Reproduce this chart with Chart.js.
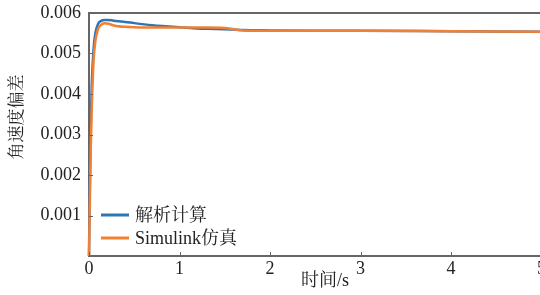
<!DOCTYPE html>
<html><head><meta charset="utf-8">
<script src="https://cdn.jsdelivr.net/npm/chart.js@4.4.1/dist/chart.umd.min.js"></script>
<style>html,body{margin:0;padding:0;background:#fff;overflow:hidden;width:540px;height:295px}#wrap{width:570px;height:295px}</style>
</head><body><div id="wrap"><canvas id="c" width="570" height="295"></canvas></div>
<script>
const times = [0, 0.005, 0.01, 0.02, 0.03, 0.05, 0.07, 0.1, 0.13, 0.17, 0.2, 0.25, 0.3, 0.4, 0.5, 0.7, 1.0, 1.3, 1.5, 1.6, 1.7, 2.0, 2.5, 3, 4, 5];
const analytic = [0, 0.0010, 0.0019, 0.0033, 0.0042, 0.0051, 0.0055, 0.00573, 0.0058, 0.00583, 0.00583, 0.00582, 0.0058, 0.00578, 0.00575, 0.0057, 0.00565, 0.00561, 0.0056, 0.00559, 0.00558, 0.00557, 0.00556, 0.00556, 0.00555, 0.00554];
const simulink = [0, 0.0007, 0.0014, 0.0027, 0.0036, 0.0048, 0.0053, 0.0056, 0.0057, 0.00575, 0.00574, 0.00571, 0.00568, 0.00566, 0.00565, 0.00564, 0.00564, 0.00564, 0.00563, 0.0056, 0.00557, 0.00556, 0.00556, 0.00556, 0.00555, 0.00554];
const seriesNames = ['解析计算', 'Simulink仿真'];
const xTicks = [0, 1, 2, 3, 4, 5];
const yTicks = [0, 0.001, 0.002, 0.003, 0.004, 0.005, 0.006];
const xTitle = '时间/s';
const yTitle = '角速度偏差';

const FONT = "'Liberation Serif', 'Noto Serif CJK SC', 'Noto Sans CJK SC', serif";
const AXIS = '#666';
const TEXT = '#222';
const colors = ['#2E75B6', '#F28032'];

const deco = {
  id: 'deco',
  afterDraw(chart) {
    const {ctx, chartArea: a, scales: {x, y}} = chart;
    ctx.save();
    // top border
    ctx.strokeStyle = AXIS; ctx.lineWidth = 2;
    ctx.beginPath(); ctx.moveTo(a.left, a.top); ctx.lineTo(a.right + 2, a.top); ctx.stroke();
    // inward ticks
    ctx.lineWidth = 1;
    xTicks.forEach(v => { const px = Math.round(x.getPixelForValue(v)) + 0.5; ctx.beginPath(); ctx.moveTo(px, a.bottom); ctx.lineTo(px, a.bottom - 4); ctx.stroke(); });
    yTicks.forEach(v => { const py = Math.round(y.getPixelForValue(v)) + 0.5; ctx.beginPath(); ctx.moveTo(a.left, py); ctx.lineTo(a.left + 4, py); ctx.stroke(); });
    // legend
    ctx.font = '18px ' + FONT; ctx.fillStyle = TEXT; ctx.textBaseline = 'middle'; ctx.textAlign = 'left';
    chart.data.datasets.forEach((ds, i) => {
      const ly = 215 + i * 23;
      ctx.strokeStyle = ds.borderColor; ctx.lineWidth = 3;
      ctx.beginPath(); ctx.moveTo(a.left + 12, ly); ctx.lineTo(a.left + 40, ly); ctx.stroke();
      ctx.fillText(ds.label, a.left + 46, ly + 1);
    });
    // axis titles
    ctx.font = '18px ' + FONT; ctx.textAlign = 'center';
    ctx.fillText(xTitle, 325, 281);
    ctx.translate(18, 117); ctx.rotate(-Math.PI / 2);
    ctx.font = '17px ' + FONT;
    ctx.fillText(yTitle, 0, 0);
    ctx.restore();
  }
};

new Chart(document.getElementById('c'), {
  type: 'line',
  data: {
    datasets: [
      { label: seriesNames[0], data: times.map((t, i) => ({x: t, y: analytic[i]})), borderColor: colors[0], borderWidth: 2.5, pointRadius: 0, cubicInterpolationMode: 'monotone', order: 2 },
      { label: seriesNames[1], data: times.map((t, i) => ({x: t, y: simulink[i]})), borderColor: colors[1], borderWidth: 2.5, pointRadius: 0, cubicInterpolationMode: 'monotone', order: 1 }
    ]
  },
  options: {
    responsive: false, animation: false, clip: false,
    layout: { padding: { top: 13, right: 28.5, left: 0, bottom: 0 } },
    plugins: { legend: { display: false }, tooltip: { enabled: false } },
    scales: {
      x: {
        type: 'linear', min: 0, max: 5,
        afterFit(s) { s.height = 39; s.paddingLeft = 0; s.paddingRight = 0; },
        afterBuildTicks(s) { s.ticks = xTicks.map(v => ({value: v})); },
        grid: { drawOnChartArea: false, drawTicks: false },
        border: { color: AXIS, width: 2 },
        ticks: { padding: 2, color: TEXT, font: { family: FONT, size: 18 }, maxRotation: 0, callback: v => String(v) }
      },
      y: {
        min: 0, max: 0.006,
        afterFit(s) { s.width = 89; s.paddingTop = 0; s.paddingBottom = 0; },
        afterBuildTicks(s) { s.ticks = yTicks.map(v => ({value: v})); },
        grid: { drawOnChartArea: false, drawTicks: false },
        border: { color: AXIS, width: 2 },
        ticks: { padding: 8, color: TEXT, font: { family: FONT, size: 18 }, callback: v => v === 0 ? '' : v.toFixed(3) }
      }
    }
  },
  plugins: [deco]
});
</script></body></html>
